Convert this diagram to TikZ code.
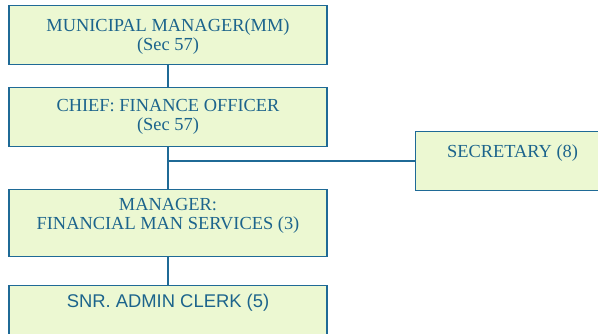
\documentclass[tikz,border=0pt]{standalone}
\usepackage{fontspec}
\setmainfont{Liberation Serif}
\setsansfont{Liberation Sans}
\definecolor{orgline}{RGB}{31,106,150}
\definecolor{orgtext}{RGB}{28,100,140}
\definecolor{orgfill}{RGB}{236,248,210}
\begin{document}
\begin{tikzpicture}[x=1pt,y=1pt,
  post/.style={draw=orgline, fill=orgfill, line width=1.2pt, text=orgtext, align=center,
    inner ysep=6pt, font=\fontsize{18.4}{19}\selectfont, minimum width=318pt},
  link/.style={draw=orgline, line width=1.8pt}] % Organigramm Finanzen
\useasboundingbox (0,0) rectangle (598,-333);
\node[post, anchor=north, text height=39pt, text depth=8pt] (mm) at (168,-5) {MUNICIPAL MANAGER(MM)\\(Sec 57)};
\node[post, anchor=north, text height=37pt, text depth=10pt] (cfo) at (168,-87) {CHIEF: FINANCE OFFICER\\(Sec 57)};
\node[post, anchor=north west, minimum width=194pt, text height=20pt, text depth=27pt] (sec) at (415,-131) {SECRETARY (8)};
\node[post, anchor=north, text height=34pt, text depth=21pt] (mfs) at (168,-189) {MANAGER:\\FINANCIAL MAN SERVICES (3)};
\node[post, anchor=north, text height=16pt, text depth=32pt, font=\sffamily\fontsize{18.4}{19}\selectfont] (clerk) at (168,-285) {SNR. ADMIN CLERK (5)};
\coordinate (fork) at (cfo.south |- sec.west);
\draw[link] (mm) -- (cfo);
\draw[link] (cfo) -- (mfs);
\draw[link] (fork) -- (sec);
\draw[link] (mfs) -- (clerk);
\end{tikzpicture}
\end{document}
